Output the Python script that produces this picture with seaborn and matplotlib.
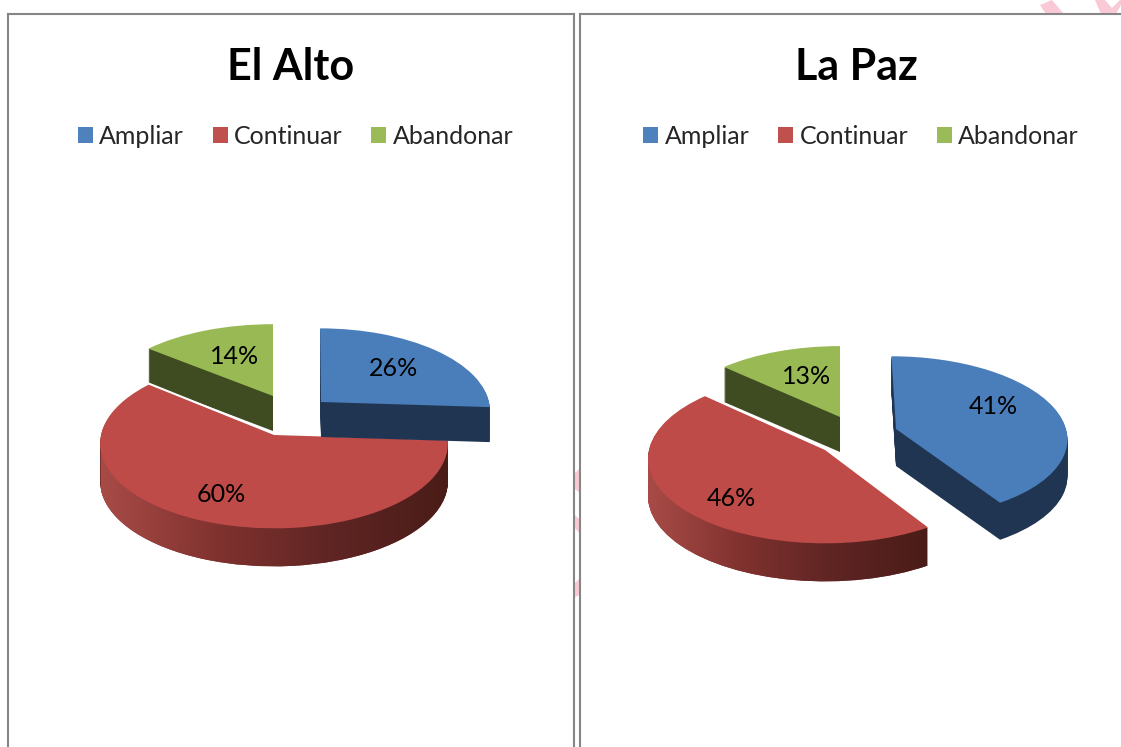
import numpy as np
import matplotlib
matplotlib.use("Agg")
import matplotlib.pyplot as plt
import seaborn as sns
from matplotlib.colors import LinearSegmentedColormap
from matplotlib.patches import Patch, PathPatch, Polygon
from matplotlib.path import Path
from matplotlib.transforms import Affine2D, Transform

categories = ["Ampliar", "Continuar", "Abandonar"]
titles = ["El Alto", "La Paz"]
values_el_alto = [26, 60, 14]
values_la_paz = [41, 46, 13]

W, H = 1121, 747
top_colors = ["#4A7EBB", "#BE4B48", "#98B954"]
legend_colors = ["#4F81BD", "#C0504D", "#9BBB59"]
wall_colors = ["#1F3552", "#7A302C", "#3F4B21"]
wall_stops = ["#A84B47", "#80322F", "#5E2523", "#4A1C18"]
frame_color = "#868686"
pink = "#F9CAD6"

sns.set_theme(style="white")
plt.rcParams["font.family"] = ["Lato", "DejaVu Sans"]

Q = 0.10  # perspective strength of the pie plane


class Perspective(Transform):
    input_dims = output_dims = 2

    def transform_non_affine(self, xy):
        xy = np.asarray(xy, dtype=float)
        return xy / (1 + Q * xy[:, 1])[:, None]


# layout, in pixels: per category (cx, cy, rx, ry, depth, shear)
layouts = [
    {
        "box": (8, 14, 574, 747),
        "geom": [(321, 402, 168, 81, 35, -1), (274, 435, 173, 84, 38, 0), (273, 396, 172, 79, 35, 0)],
        "grad": (101, 449),
        "labels": [(393, 368), (221, 494), (235, 356)],
        "legend": (295.5, 136),
    },
    {
        "box": (580, 14, 1132, 747),
        "geom": [(896, 429, 170, 80, 37, -5), (825, 450, 176, 84, 38, 0), (840, 417, 170, 78, 35, 0)],
        "grad": (648, 927),
        "labels": [(993, 406), (731, 498), (807, 376)],
        "legend": (861, 136),
    },
]

fig = plt.figure(figsize=(W / 100, H / 100), dpi=100, facecolor="white")

# faint watermark fragments behind the two chart frames
bg = fig.add_axes([0, 0, 1, 1], zorder=0)
bg.set_xlim(0, W)
bg.set_ylim(H, 0)
bg.axis("off")
for pts in [
    [(1040, 5), (1052, 0), (1064, 14), (1046, 14)],
    [(1095, 0), (1105, 0), (1112, 8), (1120, 0), (1121, 0), (1121, 5), (1116, 14), (1101, 14)],
    [(575, 473), (580, 468), (580, 493), (575, 489)],
    [(575, 515), (580, 520), (580, 534), (575, 528)],
    [(575, 583), (580, 578), (580, 595), (575, 597)],
]:
    bg.add_patch(Polygon(pts, closed=True, facecolor=pink, edgecolor="none"))


def add_wedge(ax, value, start, plane, **props):
    """One slice through ax.pie, mapped onto the tilted pie plane."""
    wedges, _ = ax.pie([value / 100], normalize=False, startangle=start,
                       counterclock=False, wedgeprops=props)
    wedge = wedges[0]
    wedge.set_transform(plane + ax.transData)
    return wedge


for title, values, lay in zip(titles, [values_el_alto, values_la_paz], layouts):
    x0, y0, x1, y1 = lay["box"]
    ax = fig.add_axes([x0 / W, 1 - y1 / H, (x1 - x0) / W, (y1 - y0) / H], zorder=1)

    starts = 90 - 3.6 * np.concatenate([[0], np.cumsum(values)[:-1]])
    z = 1
    wall_paths_red = []
    for i in [2, 1, 0]:  # green, red, blue: painting order
        cx, cy, rx, ry, depth, shear = lay["geom"][i]
        base = Perspective() + Affine2D.from_values(rx, 0, shear, -ry, cx, cy)
        if i == 1:
            halo = add_wedge(ax, values[i], starts[i], base,
                             facecolor="white", edgecolor="white", linewidth=3)
            halo.set_zorder(z)
            z += 1
        for d in range(depth, 0, -1):
            plane = base + Affine2D().translate(0, d)
            w = add_wedge(ax, values[i], starts[i], plane,
                          facecolor=wall_colors[i], edgecolor="none")
            w.set_zorder(z)
            if i == 1:
                wall_paths_red.append(plane.transform_path(w.get_path()))
        z += 1
        if i == 1:
            cmap = LinearSegmentedColormap.from_list("wall", wall_stops)
            gx0, gx1 = lay["grad"]
            im = ax.imshow(np.linspace(0, 1, 256)[None, :], cmap=cmap, aspect="auto",
                           extent=(gx0, gx1, y1, y0), zorder=z)
            im.set_clip_path(PathPatch(Path.make_compound_path(*wall_paths_red),
                                       transform=ax.transData))
            z += 1
        top = add_wedge(ax, values[i], starts[i], base,
                        facecolor=top_colors[i], edgecolor="none")
        top.set_zorder(z)
        z += 1

    for v, (lx, ly) in zip(values, lay["labels"]):
        ax.text(lx, ly, f"{v}%", ha="center", va="center", fontsize=18,
                color="black", zorder=z)

    ax.set_aspect("auto")
    ax.set_xlim(x0, x1)
    ax.set_ylim(y1, y0)
    ax.set_xticks([])
    ax.set_yticks([])
    ax.set_frame_on(True)
    ax.set_facecolor("white")
    for name, spine in ax.spines.items():
        spine.set_visible(name != "bottom" and not (name == "right" and x1 > W))
        spine.set_color(frame_color)
        spine.set_linewidth(1.5)

    ax.set_title(title, fontsize=31, fontweight="bold", color="black",
                 y=1 - (67.5 - y0) / (y1 - y0), va="center", pad=0)

    handles = [Patch(facecolor=c, edgecolor="none") for c in legend_colors]
    ax.legend(handles, categories, ncol=3, frameon=False, fontsize=18,
              loc="center", bbox_to_anchor=lay["legend"], bbox_transform=ax.transData,
              handlelength=0.6, handleheight=0.6, handletextpad=0.26,
              columnspacing=1.15, borderpad=0, borderaxespad=0)

fig.savefig("out.png", dpi=100, facecolor="white")
